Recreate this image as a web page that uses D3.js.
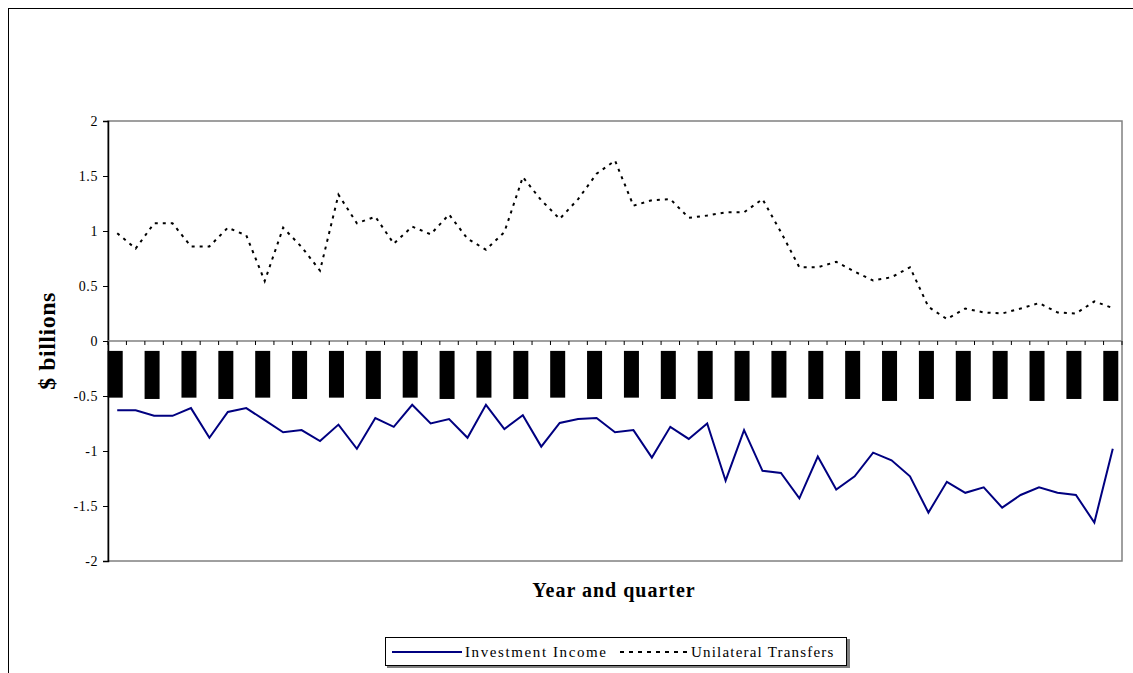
<!DOCTYPE html>
<html>
<head>
<meta charset="utf-8">
<script src="https://cdn.jsdelivr.net/npm/d3@7"></script>
<style>
  html, body { margin: 0; padding: 0; background: #fff; }
  svg { display: block; }
  text { font-family: "Liberation Serif", "Times New Roman", serif; }
</style>
</head>
<body>
<script>
// Quarterly flows, $ billions
const investmentIncome = [
  -0.63, -0.63, -0.68, -0.68, -0.61, -0.88, -0.645, -0.61, -0.72, -0.83,
  -0.81, -0.91, -0.76, -0.98, -0.70, -0.78, -0.58, -0.75, -0.71, -0.88,
  -0.58, -0.80, -0.675, -0.96, -0.745, -0.71, -0.70, -0.83, -0.81, -1.06,
  -0.78, -0.89, -0.75, -1.27, -0.81, -1.18, -1.20, -1.43, -1.05, -1.35,
  -1.23, -1.015, -1.085, -1.23, -1.56, -1.28, -1.38, -1.33, -1.515, -1.40,
  -1.33, -1.38, -1.40, -1.65, -0.98
];
const unilateralTransfers = [
  0.98, 0.84, 1.07, 1.07, 0.86, 0.86, 1.03, 0.96, 0.545, 1.03,
  0.855, 0.64, 1.33, 1.07, 1.13, 0.885, 1.04, 0.97, 1.15, 0.93,
  0.83, 0.99, 1.49, 1.28, 1.11, 1.29, 1.52, 1.64, 1.23, 1.28,
  1.29, 1.12, 1.14, 1.17, 1.17, 1.29, 0.99, 0.67, 0.67, 0.72,
  0.63, 0.55, 0.58, 0.67, 0.31, 0.20, 0.295, 0.26, 0.25, 0.295,
  0.345, 0.26, 0.25, 0.36, 0.30
];
// Category labels are printed on every second quarter; their printed
// length varies (0 = short, 1 = medium, 2 = long).
const labelLength = [
  0, 1, 0, 1, 0, 1, 0,
  1, 0, 1, 0, 1, 0, 1, 0, 1, 1, 2,
  0, 1, 1, 2, 1, 2, 1, 2, 1, 2
];
const yTicks = [2, 1.5, 1, 0.5, 0, -0.5, -1, -1.5, -2];
const seriesNames = ["Investment Income", "Unilateral Transfers"];

const W = 1133, H = 673;
const plot = { left: 108, right: 1122, top: 121, bottom: 561 };
const serif = "'Liberation Serif', 'Times New Roman', serif";

const svg = d3.select("body").append("svg")
  .attr("width", W).attr("height", H);

// outer chart frame
svg.append("rect")
  .attr("x", 8.5).attr("y", 8.5)
  .attr("width", 1140).attr("height", 700)
  .attr("fill", "#fff").attr("stroke", "#000").attr("stroke-width", 1);

const n = investmentIncome.length;
const x = d3.scaleBand()
  .domain(d3.range(n))
  .range([plot.left, plot.right])
  .padding(0);
const xc = i => x(i) + x.bandwidth() / 2;

const y = d3.scaleLinear()
  .domain([-2, 2])
  .range([plot.bottom, plot.top]);

// plot area outline (grey), left axis drawn separately in black
svg.append("rect")
  .attr("x", plot.left).attr("y", plot.top)
  .attr("width", plot.right - plot.left).attr("height", plot.bottom - plot.top)
  .attr("fill", "none").attr("stroke", "#808080").attr("stroke-width", 1.5);

// y axis
const yAxis = d3.axisLeft(y)
  .tickValues(yTicks)
  .tickSize(5)
  .tickFormat(d => String(d));
const gy = svg.append("g")
  .attr("transform", `translate(${plot.left},0)`)
  .call(yAxis);
gy.select(".domain").attr("stroke", "#000").attr("stroke-width", 1.5);
gy.selectAll(".tick line").attr("stroke", "#000");
gy.selectAll(".tick text")
  .attr("x", -10)
  .style("font-family", serif)
  .style("font-size", "14px")
  .style("letter-spacing", "0.6px")
  .attr("fill", "#000");

// category axis along zero
const boundaries = d3.range(n + 1).map(i => i === n ? plot.right : x(i));
const gx = svg.append("g");
gx.append("line")
  .attr("x1", plot.left).attr("x2", plot.right)
  .attr("y1", y(0)).attr("y2", y(0))
  .attr("stroke", "#808080").attr("stroke-width", 1.5);
gx.selectAll("line.tk")
  .data(boundaries)
  .join("line")
  .attr("class", "tk")
  .attr("x1", d => d).attr("x2", d => d)
  .attr("y1", y(0)).attr("y2", y(0) + 4)
  .attr("stroke", "#000").attr("stroke-width", 1);

// category labels (rendered as solid blocks)
const blockEnd = [-0.515, -0.527, -0.545];
gx.selectAll("rect.lbl")
  .data(labelLength)
  .join("rect")
  .attr("class", "lbl")
  .attr("x", (d, k) => xc(k * 2) - 9.5)
  .attr("width", 15)
  .attr("y", y(-0.09))
  .attr("height", d => y(blockEnd[d]) - y(-0.09))
  .attr("fill", "#000");

// series lines
const line = d3.line()
  .x((d, i) => xc(i))
  .y(d => y(d));

svg.append("path")
  .datum(investmentIncome)
  .attr("d", line)
  .attr("fill", "none")
  .attr("stroke", "#000080")
  .attr("stroke-width", 2)
  .attr("stroke-linejoin", "miter");

svg.append("path")
  .datum(unilateralTransfers)
  .attr("d", line)
  .attr("fill", "none")
  .attr("stroke", "#000")
  .attr("stroke-width", 2)
  .attr("stroke-dasharray", "3,5");

// axis titles
svg.append("text")
  .attr("transform", `translate(55,${(plot.top + plot.bottom) / 2}) rotate(-90)`)
  .attr("text-anchor", "middle")
  .style("font-family", serif)
  .style("font-weight", "bold")
  .style("font-size", "24px")
  .style("letter-spacing", "0.5px")
  .text("$ billions");

svg.append("text")
  .attr("x", 614).attr("y", 597)
  .attr("text-anchor", "middle")
  .style("font-family", serif)
  .style("font-weight", "bold")
  .style("font-size", "20px")
  .style("letter-spacing", "1px")
  .text("Year and quarter");

// legend
const lg = svg.append("g");
lg.append("rect")
  .attr("x", 387).attr("y", 639)
  .attr("width", 463).attr("height", 29)
  .attr("fill", "#808080");
lg.append("rect")
  .attr("x", 385.5).attr("y", 637.5)
  .attr("width", 461).attr("height", 28)
  .attr("fill", "#fff").attr("stroke", "#000").attr("stroke-width", 1);

lg.append("line")
  .attr("x1", 392).attr("x2", 462).attr("y1", 652).attr("y2", 652)
  .attr("stroke", "#000080").attr("stroke-width", 2);
lg.append("text")
  .attr("x", 465).attr("y", 657)
  .style("font-family", serif)
  .style("font-size", "15px")
  .style("letter-spacing", "1.6px")
  .text(seriesNames[0]);

lg.append("line")
  .attr("x1", 620).attr("x2", 688).attr("y1", 652).attr("y2", 652)
  .attr("stroke", "#000").attr("stroke-width", 2)
  .attr("stroke-dasharray", "4,5");
lg.append("text")
  .attr("x", 691).attr("y", 657)
  .style("font-family", serif)
  .style("font-size", "15px")
  .style("letter-spacing", "1.2px")
  .text(seriesNames[1]);
</script>
</body>
</html>
